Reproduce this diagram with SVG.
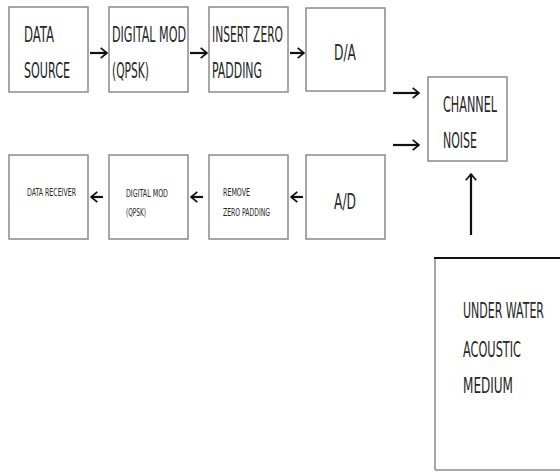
<svg xmlns="http://www.w3.org/2000/svg" width="560" height="472" viewBox="0 0 560 472">
<style>
.box{fill:#fff;stroke:#8a8a8a;stroke-width:1.5}
.t{font-family:"Liberation Sans Narrow","DejaVu Sans Condensed","Liberation Sans",sans-serif;fill:#262626}
.big{font-size:22px}
.sm{font-size:11px}
.c{stroke:#111;stroke-width:2.2;fill:none}
</style>
<defs>
<marker id="ah" viewBox="0 0 8 12" refX="7.3" refY="6" markerWidth="8" markerHeight="12" markerUnits="userSpaceOnUse" orient="auto" preserveAspectRatio="none">
<path d="M1,0.8 L7.2,6 L1,11.2" fill="none" stroke="#111" stroke-width="1.7"/>
</marker>
</defs>
<rect width="560" height="472" fill="#fff"/>
<g id="data-source"><rect class="box" x="9" y="7" width="79" height="85"/>
<text class="t big" x="24" y="42" textLength="30" lengthAdjust="spacingAndGlyphs">DATA</text>
<text class="t big" x="24" y="78" textLength="46" lengthAdjust="spacingAndGlyphs">SOURCE</text></g>
<g id="digital-mod-tx"><rect class="box" x="109" y="7" width="79" height="85"/>
<text class="t big" x="112" y="42" textLength="74" lengthAdjust="spacingAndGlyphs">DIGITAL MOD</text>
<text class="t big" x="112" y="78" textLength="37" lengthAdjust="spacingAndGlyphs">(QPSK)</text></g>
<g id="insert-zero"><rect class="box" x="209" y="7" width="79" height="85"/>
<text class="t big" x="212" y="42" textLength="71" lengthAdjust="spacingAndGlyphs">INSERT ZERO</text>
<text class="t big" x="212" y="78" textLength="50" lengthAdjust="spacingAndGlyphs">PADDING</text></g>
<g id="da"><rect class="box" x="306" y="8" width="79" height="83"/>
<text class="t big" x="334" y="60" textLength="22" lengthAdjust="spacingAndGlyphs">D/A</text></g>
<g id="channel"><rect class="box" x="428" y="77" width="79" height="84"/>
<text class="t big" x="443" y="112" textLength="54" lengthAdjust="spacingAndGlyphs">CHANNEL</text>
<text class="t big" x="443" y="148" textLength="34" lengthAdjust="spacingAndGlyphs">NOISE</text></g>
<g id="data-receiver"><rect class="box" x="9" y="155" width="79" height="84"/>
<text class="t sm" x="27" y="196" textLength="49" lengthAdjust="spacingAndGlyphs">DATA RECEIVER</text></g>
<g id="digital-mod-rx"><rect class="box" x="109" y="155" width="79" height="84"/>
<text class="t sm" x="126" y="197" textLength="42" lengthAdjust="spacingAndGlyphs">DIGITAL MOD</text>
<text class="t sm" x="126" y="216" textLength="20" lengthAdjust="spacingAndGlyphs">(QPSK)</text></g>
<g id="remove-zero"><rect class="box" x="209" y="155" width="79" height="84"/>
<text class="t sm" x="223" y="196" textLength="27" lengthAdjust="spacingAndGlyphs">REMOVE</text>
<text class="t sm" x="223" y="216" textLength="47" lengthAdjust="spacingAndGlyphs">ZERO PADDING</text></g>
<g id="ad"><rect class="box" x="306" y="155" width="79" height="84"/>
<text class="t big" x="334" y="209" textLength="22" lengthAdjust="spacingAndGlyphs">A/D</text></g>
<g id="medium">
<line x1="435" y1="258" x2="435" y2="470" stroke="#8a8a8a" stroke-width="1.5"/>
<line x1="435" y1="470" x2="560" y2="470" stroke="#8a8a8a" stroke-width="1.5"/>
<line x1="434" y1="258" x2="560" y2="258" stroke="#111" stroke-width="2"/>
<text class="t big" x="463" y="318" textLength="81" lengthAdjust="spacingAndGlyphs">UNDER WATER</text>
<text class="t big" x="463" y="357" textLength="58" lengthAdjust="spacingAndGlyphs">ACOUSTIC</text>
<text class="t big" x="463" y="393" textLength="50" lengthAdjust="spacingAndGlyphs">MEDIUM</text></g>
<g id="connectors">
<line class="c" x1="90" y1="53" x2="107" y2="53" marker-end="url(#ah)"/>
<line class="c" x1="190" y1="53" x2="207" y2="53" marker-end="url(#ah)"/>
<line class="c" x1="290" y1="53" x2="304" y2="53" marker-end="url(#ah)"/>
<line class="c" x1="393" y1="93" x2="419" y2="93" marker-end="url(#ah)"/>
<line class="c" x1="393" y1="145" x2="419" y2="145" marker-end="url(#ah)"/>
<line class="c" x1="471" y1="235" x2="471" y2="174" stroke-width="1.8" marker-end="url(#ah)"/>
<line class="c" x1="103" y1="197" x2="91" y2="197" marker-end="url(#ah)"/>
<line class="c" x1="203" y1="197" x2="191" y2="197" marker-end="url(#ah)"/>
<line class="c" x1="303" y1="197" x2="291" y2="197" marker-end="url(#ah)"/>
</g>
</svg>
